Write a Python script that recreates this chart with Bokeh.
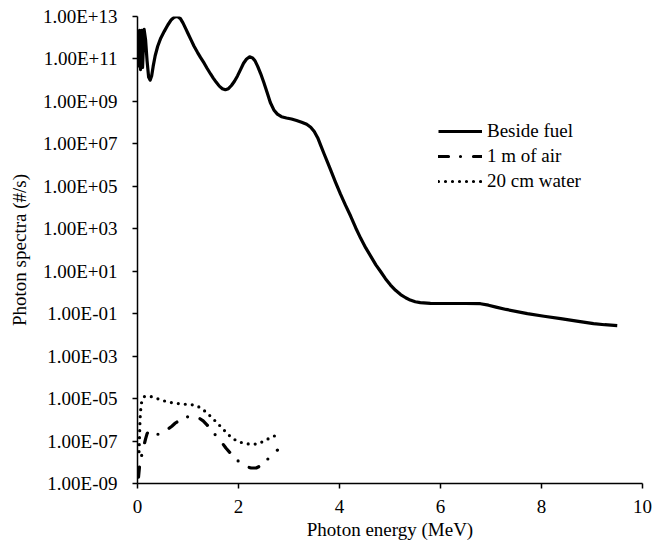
from bokeh.plotting import figure
from bokeh.models import FixedTicker, CustomJSTickFormatter, Legend, LegendItem, Range1d
from bokeh.embed import file_html
from bokeh.resources import INLINE

# ---- data (flux given as log10 of photons/s) ----
fuel_energy = [0.02, 0.04, 0.06, 0.08, 0.10, 0.13, 0.16, 0.19, 0.22, 0.25, 0.28, 0.31, 0.35, 0.40,
               0.46, 0.53, 0.60, 0.67, 0.73, 0.79, 0.85, 0.90, 0.95, 1.00, 1.06, 1.12, 1.19, 1.25,
               1.32, 1.38, 1.45, 1.50, 1.56, 1.62, 1.68, 1.74, 1.80, 1.86, 1.92, 1.98, 2.04, 2.10,
               2.16, 2.22, 2.28, 2.33, 2.38, 2.44, 2.50, 2.57, 2.63, 2.70, 2.77, 2.85, 2.95, 3.05,
               3.15, 3.25, 3.35, 3.43, 3.50, 3.57, 3.63, 3.70, 3.76, 3.82, 3.92, 4.02, 4.12, 4.22,
               4.32, 4.42, 4.52, 4.62, 4.72, 4.81, 4.91, 5.01, 5.11, 5.21, 5.31, 5.40, 5.50, 5.60,
               5.80, 6.00, 6.20, 6.50, 6.79, 6.95, 7.10, 7.30, 7.72, 8.05, 8.38, 8.70, 9.03, 9.25,
               9.50]
fuel_log_flux = [10.6, 12.35, 10.5, 12.35, 10.6, 12.4, 11.9, 10.9, 10.15, 10.0, 10.2, 10.65, 11.15,
                 11.6, 11.98, 12.3, 12.6, 12.85, 12.97, 13.0, 12.9, 12.7, 12.45, 12.2, 11.9, 11.6,
                 11.3, 11.06, 10.8, 10.55, 10.28, 10.1, 9.9, 9.72, 9.6, 9.55, 9.6, 9.75, 9.95, 10.2,
                 10.5, 10.8, 11.0, 11.1, 11.05, 10.9, 10.65, 10.3, 9.9, 9.4, 8.95, 8.6, 8.4, 8.28,
                 8.22, 8.17, 8.1, 8.02, 7.92, 7.78, 7.58, 7.28, 6.92, 6.5, 6.15, 5.8, 5.2, 4.63, 4.1,
                 3.6, 3.05, 2.55, 2.1, 1.7, 1.3, 1.0, 0.65, 0.35, 0.1, -0.1, -0.25, -0.36, -0.44,
                 -0.48, -0.51, -0.52, -0.52, -0.52, -0.53, -0.6, -0.69, -0.8, -1.0, -1.12, -1.23,
                 -1.35, -1.47, -1.52, -1.56]

air_energy = [0.02, 0.04, 0.06, 0.08, 0.10, 0.13, 0.16, 0.19, 0.22, 0.26, 0.30, 0.37, 0.45, 0.53,
              0.60, 0.68, 0.75, 0.85, 0.95, 1.05, 1.15, 1.22, 1.30, 1.38, 1.45, 1.52, 1.60, 1.68,
              1.75, 1.85, 1.95, 2.05, 2.15, 2.25, 2.35, 2.45, 2.55, 2.65, 2.77]
air_log_flux = [-8.7, -8.2, -7.9, -7.7, -7.5, -7.2, -6.9, -6.65, -6.55, -6.56, -6.62, -6.68, -6.68,
                -6.58, -6.45, -6.3, -6.15, -6.0, -5.88, -5.83, -5.85, -5.92, -6.05, -6.25, -6.45,
                -6.65, -6.87, -7.1, -7.33, -7.6, -7.85, -8.05, -8.2, -8.27, -8.27, -8.15, -7.92,
                -7.68, -7.43]

water_energy = [0.03, 0.04, 0.05, 0.06, 0.08, 0.10, 0.14, 0.20, 0.30, 0.45, 0.60, 0.75, 0.90, 1.05,
                1.15, 1.22, 1.30, 1.40, 1.50, 1.60, 1.70, 1.80, 1.90, 2.00, 2.10, 2.20, 2.30, 2.40,
                2.50, 2.60, 2.75]
water_log_flux = [-7.5, -6.8, -6.0, -5.6, -5.2, -5.0, -4.9, -4.88, -4.92, -5.05, -5.16, -5.22, -5.26,
                  -5.28, -5.32, -5.4, -5.52, -5.73, -5.96, -6.2, -6.45, -6.7, -6.9, -7.03, -7.1,
                  -7.14, -7.15, -7.12, -7.0, -6.88, -6.72]

series_names = ["Beside fuel", "1 m of air", "20 cm water"]

x_ticks = [0, 2, 4, 6, 8, 10]
y_exps = [-9, -7, -5, -3, -1, 1, 3, 5, 7, 9, 11, 13]
y_tick_labels = ["1.00E-09", "1.00E-07", "1.00E-05", "1.00E-03", "1.00E-01", "1.00E+01",
                 "1.00E+03", "1.00E+05", "1.00E+07", "1.00E+09", "1.00E+11", "1.00E+13"]

fuel_flux = [10.0 ** v for v in fuel_log_flux]
air_flux = [10.0 ** v for v in air_log_flux]
water_flux = [10.0 ** v for v in water_log_flux]
y_ticks = [10.0 ** e for e in y_exps]

FONT = "Liberation Serif"

p = figure(width=653, height=544, y_axis_type="log", output_backend="svg",
           toolbar_location=None, x_range=Range1d(0, 10), y_range=Range1d(1e-9, 1e13))
p.min_border_left = 137
p.min_border_right = 11
p.min_border_top = 16
p.min_border_bottom = 61
p.outline_line_color = None
p.xgrid.visible = False
p.ygrid.visible = False
p.background_fill_color = "white"
p.border_fill_color = "white"

r1 = p.line(fuel_energy, fuel_flux, line_color="black", line_width=3.2, line_join="round")
r2 = p.line(air_energy, air_flux, line_color="black", line_width=3.2, line_dash="10 12 0 13",
            line_cap="round", line_join="round")
r3 = p.line(water_energy, water_flux, line_color="black", line_width=3.2, line_dash="0 7",
            line_cap="round", line_join="round")

p.xaxis.ticker = FixedTicker(ticks=x_ticks)
p.yaxis.ticker = FixedTicker(ticks=y_ticks)
p.yaxis.formatter = CustomJSTickFormatter(args=dict(exps=y_exps, labels=y_tick_labels), code="""
    const e = Math.round(Math.log10(tick));
    const i = exps.indexOf(e);
    return i >= 0 ? labels[i] : "";
""")

for ax in (p.xaxis[0], p.yaxis[0]):
    ax.axis_line_color = "black"
    ax.axis_line_width = 1.5
    ax.major_tick_line_color = "black"
    ax.major_tick_line_width = 1.5
    ax.major_tick_in = 0
    ax.major_tick_out = 5
    ax.minor_tick_line_color = None
    ax.major_label_text_font = FONT
    ax.major_label_text_font_size = "19px"
    ax.major_label_text_color = "black"
    ax.axis_label_text_font = FONT
    ax.axis_label_text_font_size = "19px"
    ax.axis_label_text_font_style = "normal"
    ax.axis_label_text_color = "black"

p.xaxis.axis_label = "Photon energy (MeV)"
p.yaxis.axis_label = "Photon spectra (#/s)"
p.xaxis.major_label_standoff = 11
p.xaxis.axis_label_standoff = 3
p.yaxis.major_label_standoff = 15
p.yaxis.axis_label_standoff = 10

legend = Legend(items=[LegendItem(label=series_names[0], renderers=[r1]),
                       LegendItem(label=series_names[1], renderers=[r2]),
                       LegendItem(label=series_names[2], renderers=[r3])],
                location=(301, 290))
legend.background_fill_alpha = 0
legend.border_line_color = None
legend.label_text_font = FONT
legend.label_text_font_size = "19px"
legend.label_text_color = "black"
legend.glyph_width = 44
legend.glyph_height = 24
legend.label_height = 24
legend.label_standoff = 5
legend.spacing = 1
legend.padding = 0
legend.margin = 0
p.add_layout(legend)

open("out.html", "w").write(file_html(p, INLINE))
